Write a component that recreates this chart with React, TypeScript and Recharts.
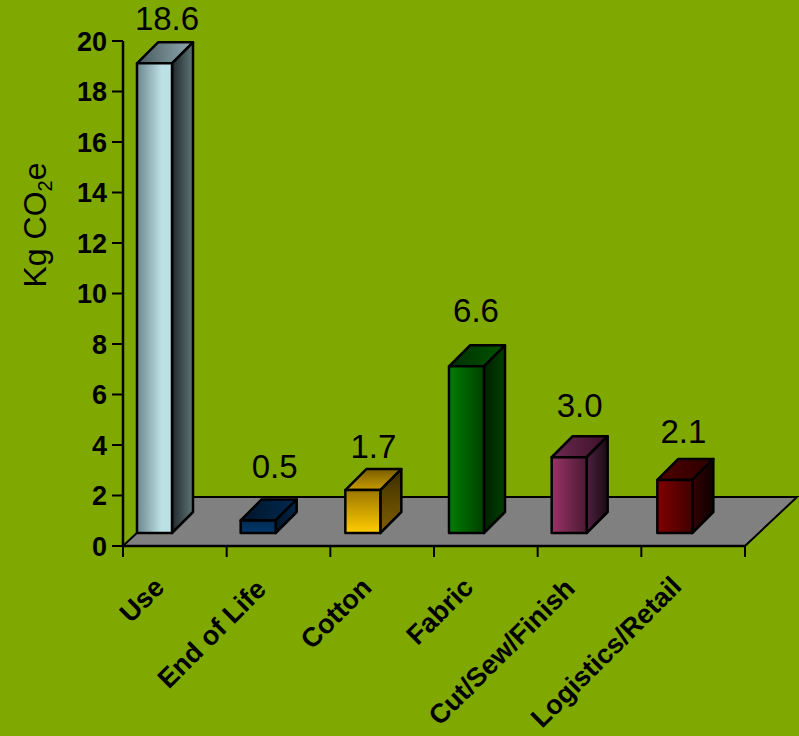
import React from 'react';
import { BarChart, Bar, XAxis, YAxis, LabelList, usePlotArea } from 'recharts';

const categories = ['Use', 'End of Life', 'Cotton', 'Fabric', 'Cut/Sew/Finish', 'Logistics/Retail'];
const emissions = [18.6, 0.5, 1.7, 6.6, 3.0, 2.1];
const yTicks = [0, 2, 4, 6, 8, 10, 12, 14, 16, 18, 20];

const chartData = categories.map((name, i) => ({ name, value: emissions[i] }));

const FONT = '"Liberation Sans", Arial, sans-serif';
const BACKGROUND = '#7fa800';
const FLOOR = '#808080';

// gradient stops per bar: [start, end, direction]
type Stops = [string, string, 'h' | 'v'];
const FRONT: Stops[] = [
  ['#6b878d', '#bde0e5', 'h'],
  ['#002a52', '#00386b', 'v'],
  ['#9c7700', '#ffcc00', 'v'],
  ['#007f00', '#003f00', 'h'],
  ['#993366', '#4a1a33', 'h'],
  ['#800000', '#3f0000', 'h'],
];
const TOP: Stops[] = [
  ['#46595d', '#90aab0', 'h'],
  ['#001429', '#002a52', 'h'],
  ['#7a5c00', '#c69c00', 'v'],
  ['#002f00', '#005400', 'h'],
  ['#6e2a50', '#3a1029', 'h'],
  ['#500000', '#2c0000', 'h'],
];
const SIDE: Stops[] = [
  ['#20292b', '#5f7478', 'h'],
  ['#001429', '#00264a', 'h'],
  ['#3d2e00', '#806000', 'v'],
  ['#001f00', '#004000', 'h'],
  ['#4d2040', '#1a0a14', 'h'],
  ['#330000', '#0f0000', 'h'],
];

const DEPTH = 21;
const BAR_DX = [-20, -20, -19, -19, -20, -18];
const BAR_DY = -13;
const LABEL_DX = [2, 6, 0, -1, 0, -2];
const LABEL_LIFT = [12, 21, 11, 23, 19, 16];
const TICK_SHIFT = [9, 11, 9, 11, 13, 10];
const TICK_DROP = [35, 37, 35, 35, 36, 34];

const Gradient = ({ id, stops }: { id: string; stops: Stops }) => (
  <linearGradient id={id} x1="0" y1="0" x2={stops[2] === 'h' ? 1 : 0} y2={stops[2] === 'v' ? 1 : 0}>
    <stop offset="0%" stopColor={stops[0]} />
    <stop offset={stops === FRONT[0] ? '70%' : '100%'} stopColor={stops[1]} />
  </linearGradient>
);

// sloped floor behind the bars, hung off the plot area's bottom edge
const Floor = () => {
  const plot = usePlotArea();
  if (!plot) return null;
  const bottom = plot.y + plot.height;
  const right = plot.x + plot.width;
  const points = [
    [plot.x, bottom],
    [right, bottom],
    [right + 52, bottom - 49],
    [plot.x + 52, bottom - 49],
  ];
  return <polygon points={points.map((p) => p.join(',')).join(' ')} fill={FLOOR} stroke="#000" strokeWidth={2} />;
};

// extruded box: front face plus top and side faces
const Box3D = (props: any) => {
  const { x, y, width, height, index } = props;
  const fx = x + BAR_DX[index];
  const fy = y + BAR_DY;
  const fr = fx + width;
  const fb = fy + height;
  const line = { stroke: '#000', strokeWidth: 2.5, strokeLinejoin: 'round' as const };
  return (
    <g>
      <polygon
        points={`${fx},${fy} ${fx + DEPTH},${fy - DEPTH} ${fr + DEPTH},${fy - DEPTH} ${fr},${fy}`}
        fill={`url(#top${index})`}
        {...line}
      />
      <polygon
        points={`${fr},${fy} ${fr + DEPTH},${fy - DEPTH} ${fr + DEPTH},${fb - DEPTH} ${fr},${fb}`}
        fill={`url(#side${index})`}
        {...line}
      />
      <rect x={fx} y={fy} width={width} height={height} fill={`url(#front${index})`} {...line} />
    </g>
  );
};

const ValueLabel = (props: any) => {
  const { x, y, width, value, index } = props;
  return (
    <text
      x={x + BAR_DX[index] + width / 2 + DEPTH / 2 + LABEL_DX[index]}
      y={y + BAR_DY - DEPTH - LABEL_LIFT[index]}
      textAnchor="middle"
      fontFamily={FONT}
      fontSize={33}
      fill="#000"
    >
      {Number(value).toFixed(1)}
    </text>
  );
};

// category label plus tick marks on the band edges rather than the band centres
const CategoryTick = (props: any) => {
  const { x, y, payload, index } = props;
  const half = payload.offset ?? 51.83;
  const axisY = 546;
  const lx = x - TICK_SHIFT[index];
  const ly = y + TICK_DROP[index];
  return (
    <g>
      <line x1={x - half} x2={x - half} y1={axisY} y2={axisY + 11} stroke="#000" strokeWidth={2} />
      {index === categories.length - 1 && (
        <line x1={x + half} x2={x + half} y1={axisY} y2={axisY + 11} stroke="#000" strokeWidth={2} />
      )}
      <text
        x={lx}
        y={ly}
        transform={`rotate(-45 ${lx} ${ly})`}
        textAnchor="end"
        fontFamily={FONT}
        fontSize={27}
        fontWeight="bold"
        fill="#000"
      >
        {payload.value}
      </text>
    </g>
  );
};

const AxisTitle = () => (
  <text
    x={46}
    y={225}
    transform="rotate(-90 46 225)"
    textAnchor="middle"
    fontFamily={FONT}
    fontSize={32}
    fill="#000"
  >
    Kg CO
    <tspan fontSize={20} dy={6}>
      2
    </tspan>
    <tspan dy={-6}>e</tspan>
  </text>
);

export default function App() {
  return (
    <div style={{ position: 'absolute', left: 0, top: 0, width: 799, height: 736, background: BACKGROUND, overflow: 'hidden' }}>
      <BarChart
        width={799}
        height={736}
        data={chartData}
        margin={{ top: 41, right: 54, left: 0, bottom: 0 }}
        barSize={35}
      >
        <defs>
          {categories.map((c, i) => (
            <React.Fragment key={c}>
              <Gradient id={`front${i}`} stops={FRONT[i]} />
              <Gradient id={`top${i}`} stops={TOP[i]} />
              <Gradient id={`side${i}`} stops={SIDE[i]} />
            </React.Fragment>
          ))}
        </defs>
        <Floor />
        <XAxis
          dataKey="name"
          height={190}
          interval={0}
          tickLine={false}
          tick={<CategoryTick />}
          axisLine={{ stroke: '#000', strokeWidth: 2.5 }}
        />
        <YAxis
          width={123}
          domain={[0, 20]}
          ticks={yTicks}
          interval={0}
          tickSize={11}
          tickMargin={5}
          tickLine={{ stroke: '#000', strokeWidth: 2 }}
          axisLine={{ stroke: '#000', strokeWidth: 2.5 }}
          tick={{ fill: '#000', fontFamily: FONT, fontSize: 27, fontWeight: 'bold' }}
          label={<AxisTitle />}
        />
        <Bar dataKey="value" shape={<Box3D />} isAnimationActive={false}>
          <LabelList dataKey="value" content={<ValueLabel />} />
        </Bar>
      </BarChart>
    </div>
  );
}
